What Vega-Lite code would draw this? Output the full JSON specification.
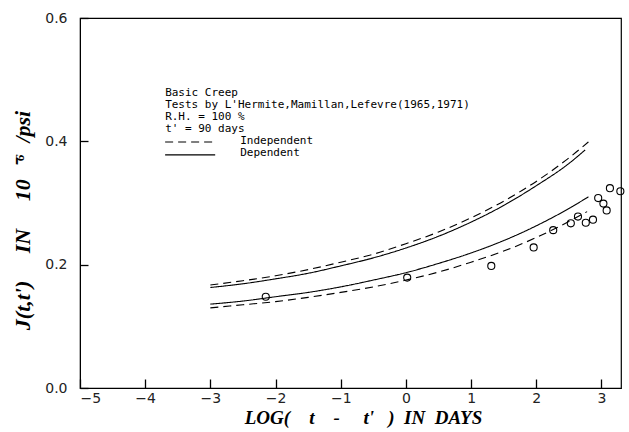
{
  "$schema": "https://vega.github.io/schema/vega-lite/v6.json",
  "width": 541,
  "height": 370,
  "autosize": "none",
  "padding": {"left": 80, "top": 18, "right": 8, "bottom": 44},
  "background": "white",
  "config": {
    "view": {"stroke": "black", "strokeWidth": 1.2},
    "axis": {"grid": false, "domainColor": "black", "tickColor": "black", "tickWidth": 1.3, "labelColor": "#222", "titleColor": "black"}
  },
  "datasets": {
    "curves": [
      {"series": "upper-dep", "style": "Dependent", "x": -3, "y": 0.163},
      {"series": "upper-dep", "style": "Dependent", "x": -2.5, "y": 0.169},
      {"series": "upper-dep", "style": "Dependent", "x": -2, "y": 0.177},
      {"series": "upper-dep", "style": "Dependent", "x": -1.5, "y": 0.186},
      {"series": "upper-dep", "style": "Dependent", "x": -1, "y": 0.198},
      {"series": "upper-dep", "style": "Dependent", "x": -0.5, "y": 0.211},
      {"series": "upper-dep", "style": "Dependent", "x": 0, "y": 0.227},
      {"series": "upper-dep", "style": "Dependent", "x": 0.5, "y": 0.246},
      {"series": "upper-dep", "style": "Dependent", "x": 1, "y": 0.269},
      {"series": "upper-dep", "style": "Dependent", "x": 1.5, "y": 0.296},
      {"series": "upper-dep", "style": "Dependent", "x": 2, "y": 0.328},
      {"series": "upper-dep", "style": "Dependent", "x": 2.5, "y": 0.364},
      {"series": "upper-dep", "style": "Dependent", "x": 2.75, "y": 0.386},
      {"series": "upper-ind", "style": "Independent", "x": -3, "y": 0.167},
      {"series": "upper-ind", "style": "Independent", "x": -2.5, "y": 0.174},
      {"series": "upper-ind", "style": "Independent", "x": -2, "y": 0.182},
      {"series": "upper-ind", "style": "Independent", "x": -1.5, "y": 0.192},
      {"series": "upper-ind", "style": "Independent", "x": -1, "y": 0.204},
      {"series": "upper-ind", "style": "Independent", "x": -0.5, "y": 0.217},
      {"series": "upper-ind", "style": "Independent", "x": 0, "y": 0.234},
      {"series": "upper-ind", "style": "Independent", "x": 0.5, "y": 0.253},
      {"series": "upper-ind", "style": "Independent", "x": 1, "y": 0.276},
      {"series": "upper-ind", "style": "Independent", "x": 1.5, "y": 0.303},
      {"series": "upper-ind", "style": "Independent", "x": 2, "y": 0.335},
      {"series": "upper-ind", "style": "Independent", "x": 2.5, "y": 0.373},
      {"series": "upper-ind", "style": "Independent", "x": 2.8, "y": 0.399},
      {"series": "lower-dep", "style": "Dependent", "x": -3, "y": 0.136},
      {"series": "lower-dep", "style": "Dependent", "x": -2.5, "y": 0.141},
      {"series": "lower-dep", "style": "Dependent", "x": -2, "y": 0.148},
      {"series": "lower-dep", "style": "Dependent", "x": -1.5, "y": 0.155},
      {"series": "lower-dep", "style": "Dependent", "x": -1, "y": 0.164},
      {"series": "lower-dep", "style": "Dependent", "x": -0.5, "y": 0.175},
      {"series": "lower-dep", "style": "Dependent", "x": 0, "y": 0.187},
      {"series": "lower-dep", "style": "Dependent", "x": 0.5, "y": 0.202},
      {"series": "lower-dep", "style": "Dependent", "x": 1, "y": 0.219},
      {"series": "lower-dep", "style": "Dependent", "x": 1.5, "y": 0.239},
      {"series": "lower-dep", "style": "Dependent", "x": 2, "y": 0.263},
      {"series": "lower-dep", "style": "Dependent", "x": 2.5, "y": 0.291},
      {"series": "lower-dep", "style": "Dependent", "x": 2.8, "y": 0.31},
      {"series": "lower-ind", "style": "Independent", "x": -3, "y": 0.13},
      {"series": "lower-ind", "style": "Independent", "x": -2.5, "y": 0.135},
      {"series": "lower-ind", "style": "Independent", "x": -2, "y": 0.14},
      {"series": "lower-ind", "style": "Independent", "x": -1.5, "y": 0.147},
      {"series": "lower-ind", "style": "Independent", "x": -1, "y": 0.155},
      {"series": "lower-ind", "style": "Independent", "x": -0.5, "y": 0.164},
      {"series": "lower-ind", "style": "Independent", "x": 0, "y": 0.175},
      {"series": "lower-ind", "style": "Independent", "x": 0.5, "y": 0.188},
      {"series": "lower-ind", "style": "Independent", "x": 1, "y": 0.204},
      {"series": "lower-ind", "style": "Independent", "x": 1.5, "y": 0.222},
      {"series": "lower-ind", "style": "Independent", "x": 2, "y": 0.244},
      {"series": "lower-ind", "style": "Independent", "x": 2.5, "y": 0.27},
      {"series": "lower-ind", "style": "Independent", "x": 2.78, "y": 0.286},
      {"series": "key-ind", "style": "Independent", "x": -3.694, "y": 0.399},
      {"series": "key-ind", "style": "Independent", "x": -2.926, "y": 0.399},
      {"series": "key-dep", "style": "Dependent", "x": -3.694, "y": 0.378},
      {"series": "key-dep", "style": "Dependent", "x": -2.926, "y": 0.378}
    ],
    "obs": [
      {"x": -2.15, "y": 0.148},
      {"x": 0.02, "y": 0.179},
      {"x": 1.31, "y": 0.198},
      {"x": 1.96, "y": 0.228},
      {"x": 2.26, "y": 0.256},
      {"x": 2.53, "y": 0.267},
      {"x": 2.64, "y": 0.278},
      {"x": 2.76, "y": 0.268},
      {"x": 2.87, "y": 0.273},
      {"x": 2.95, "y": 0.308},
      {"x": 3.03, "y": 0.299},
      {"x": 3.08, "y": 0.288},
      {"x": 3.13, "y": 0.324},
      {"x": 3.29, "y": 0.319}
    ],
    "notes": [
      {"x": -3.694, "y": 0.4789, "text": "Basic Creep"},
      {"x": -3.694, "y": 0.4594, "text": "Tests by L'Hermite,Mamillan,Lefevre(1965,1971)"},
      {"x": -3.694, "y": 0.4399, "text": "R.H. = 100 %"},
      {"x": -3.694, "y": 0.4205, "text": "t' = 90 days"},
      {"x": -2.542, "y": 0.401, "text": "Independent"},
      {"x": -2.542, "y": 0.3815, "text": "Dependent"}
    ]
  },
  "layer": [
    {
      "data": {"name": "curves"},
      "mark": {"type": "line", "interpolate": "monotone", "color": "black", "strokeWidth": 1.1},
      "encoding": {
        "x": {
          "field": "x", "type": "quantitative",
          "scale": {"domain": [-5, 3.3], "nice": false, "zero": false},
          "axis": {
            "values": [-5, -4, -3, -2, -1, 0, 1, 2, 3],
            "format": "d",
            "tickSize": -9,
            "labelPadding": 12,
            "labelFont": "DejaVu Sans",
            "labelFontSize": 14,
            "title": "LOG(\u00a0\u00a0\u00a0\u00a0t\u00a0\u00a0\u00a0\u00a0-\u00a0\u00a0\u00a0\u00a0\u00a0t'\u00a0\u00a0\u00a0)\u00a0\u00a0IN\u00a0\u00a0DAYS",
            "titleFont": "Liberation Serif",
            "titleFontStyle": "italic",
            "titleFontWeight": "bold",
            "titleFontSize": 19,
            "titleX": 283,
            "titleY": 29,
            "titleBaseline": "middle"
          }
        },
        "y": {
          "field": "y", "type": "quantitative",
          "scale": {"domain": [0, 0.6], "nice": false},
          "axis": {
            "values": [0, 0.2, 0.4, 0.6],
            "format": ".1f",
            "tickSize": -8,
            "labelPadding": 21,
            "labelFont": "DejaVu Sans",
            "labelFontSize": 14,
            "title": "J(t,t')\u00a0\u00a0\u00a0\u00a0\u00a0IN\u00a0\u00a0\u00a0\u00a0\u00a010\u00a0\u00a0⁻⁶\u00a0\u00a0/psi",
            "titleFont": "Liberation Serif",
            "titleFontStyle": "italic",
            "titleFontWeight": "bold",
            "titleFontSize": 22,
            "titleX": -58,
            "titleY": 202,
            "titleBaseline": "middle"
          }
        },
        "detail": {"field": "series"},
        "strokeDash": {
          "field": "style", "type": "nominal",
          "scale": {"domain": ["Independent", "Dependent"], "range": [[8, 5], [1, 0]]},
          "legend": null
        }
      }
    },
    {
      "data": {"name": "obs"},
      "mark": {"type": "point", "shape": "circle", "filled": false, "color": "black", "size": 50, "strokeWidth": 1.1, "opacity": 1},
      "encoding": {
        "x": {"field": "x", "type": "quantitative"},
        "y": {"field": "y", "type": "quantitative"}
      }
    },
    {
      "data": {"name": "notes"},
      "mark": {"type": "text", "align": "left", "baseline": "middle", "font": "DejaVu Sans Mono", "fontSize": 11, "color": "black"},
      "encoding": {
        "x": {"field": "x", "type": "quantitative"},
        "y": {"field": "y", "type": "quantitative"},
        "text": {"field": "text"}
      }
    }
  ]
}
